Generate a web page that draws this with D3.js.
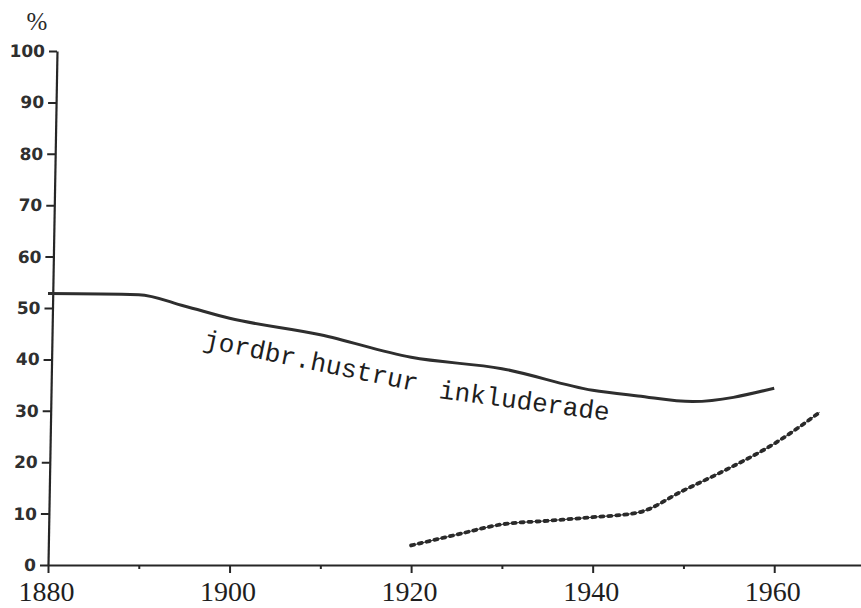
<!DOCTYPE html>
<html>
<head>
<meta charset="utf-8">
<script src="https://cdn.jsdelivr.net/npm/d3@7"></script>
<style>
  html, body { margin: 0; padding: 0; background: #fff; }
  svg { display: block; }
</style>
</head>
<body>
<svg id="chart" width="861" height="608"></svg>
<script>
// ---- data ----
const solidYears  = [1880, 1890, 1895, 1900, 1910, 1920, 1930, 1940, 1945, 1951, 1960];
const solidValues = [52.8, 52.6, 50.4, 48.0, 44.8, 40.4, 38.2, 34.0, 32.9, 31.8, 34.4];

const dottedYears  = [1920, 1925, 1930, 1935, 1940, 1945, 1950, 1955, 1960, 1965];
const dottedValues = [3.8, 5.9, 7.9, 8.6, 9.3, 10.2, 14.5, 18.8, 23.6, 29.7];

const xMajorTicks = [1880, 1900, 1920, 1940, 1960];
const xMinorTicks = [1890, 1910, 1930, 1950];
const yTicks = [0, 10, 20, 30, 40, 50, 60, 70, 80, 90, 100];
const yUnit = "%";
const labelWords = ["jordbr.hustrur", "inkluderade"];

// ---- layout ----
const svg = d3.select("#chart");
const ink = "#262626";

const x = d3.scaleLinear().domain([1880, 1970]).range([48, 865]);
const y = d3.scaleLinear().domain([0, 100]).range([565, 51]);

// x axis
const xAxis = svg.append("g").attr("transform", `translate(0,${y(0)})`);
xAxis.call(d3.axisBottom(x).tickValues(xMajorTicks).tickSize(8).tickSizeOuter(0).tickPadding(3).tickFormat(d3.format("d")));
xAxis.select(".domain").attr("stroke", ink).attr("stroke-width", 2.2);
xAxis.selectAll(".tick line").attr("stroke", ink).attr("stroke-width", 2);
xAxis.selectAll(".tick text")
  .attr("fill", "#1e1e1e")
  .attr("font-family", "'Liberation Serif', 'DejaVu Serif', serif")
  .attr("font-size", 28)
  .attr("dy", "0.9em")
  .attr("dx", -2);

const xMinor = svg.append("g").attr("transform", `translate(0,${y(0)})`);
xMinor.call(d3.axisBottom(x).tickValues(xMinorTicks).tickSize(4).tickFormat(""));
xMinor.select(".domain").remove();
xMinor.selectAll(".tick line").attr("stroke", ink).attr("stroke-width", 2);

// y axis (slightly slanted as in the hand-drawn original)
const k = 9 / 514;
const yAxis = svg.append("g")
  .attr("transform", `translate(${48 + y(0) * k},0) skewX(${-Math.atan(k) * 180 / Math.PI})`);
yAxis.call(d3.axisLeft(y).tickValues(yTicks).tickSize(8).tickSizeOuter(0).tickPadding(4));
yAxis.select(".domain").attr("stroke", ink).attr("stroke-width", 2.2);
yAxis.selectAll(".tick line").attr("stroke", ink).attr("stroke-width", 2);
yAxis.selectAll(".tick text")
  .attr("fill", "#2f2f2f")
  .attr("font-family", "'DejaVu Sans', sans-serif")
  .attr("font-weight", "bold")
  .attr("font-size", 17);

// unit label
svg.append("text")
  .attr("x", 37).attr("y", 30)
  .attr("text-anchor", "middle")
  .attr("font-family", "'Liberation Serif', 'DejaVu Serif', serif")
  .attr("font-size", 25)
  .attr("fill", "#2a2a2a")
  .text(yUnit);

// solid line
const solidData = solidYears.map((d, i) => ({ year: d, value: solidValues[i] }));
const solidGen = d3.line().x(d => x(d.year)).y(d => y(d.value)).curve(d3.curveMonotoneX);
svg.append("path")
  .datum(solidData)
  .attr("fill", "none")
  .attr("stroke", "#2e2e2e")
  .attr("stroke-width", 3)
  .attr("stroke-linejoin", "round")
  .attr("d", solidGen);

// dotted (beaded) line
const dottedData = dottedYears.map((d, i) => ({ year: d, value: dottedValues[i] }));
const dotGen = d3.line().x(d => x(d.year)).y(d => y(d.value)).curve(d3.curveMonotoneX);
svg.append("path")
  .datum(dottedData)
  .attr("fill", "none")
  .attr("stroke", "#333")
  .attr("stroke-width", 1)
  .attr("d", dotGen);
svg.append("path")
  .datum(dottedData)
  .attr("fill", "none")
  .attr("stroke", "#2a2a2a")
  .attr("stroke-width", 3.8)
  .attr("stroke-linecap", "round")
  .attr("stroke-dasharray", "3 5")
  .attr("d", dotGen);

// annotation text
const labelFont = "'Liberation Mono', 'DejaVu Sans Mono', monospace";
svg.append("text")
  .attr("transform", `translate(${x(1897.0)},${y(42.4)}) rotate(11.7)`)
  .attr("font-family", labelFont)
  .attr("font-size", 26)
  .attr("fill", "#1e1e1e")
  .text(labelWords[0]);
svg.append("text")
  .attr("transform", `translate(${x(1923.0)},${y(32.5)}) rotate(7.6)`)
  .attr("font-family", labelFont)
  .attr("font-size", 26)
  .attr("fill", "#1e1e1e")
  .text(labelWords[1]);
</script>
</body>
</html>
